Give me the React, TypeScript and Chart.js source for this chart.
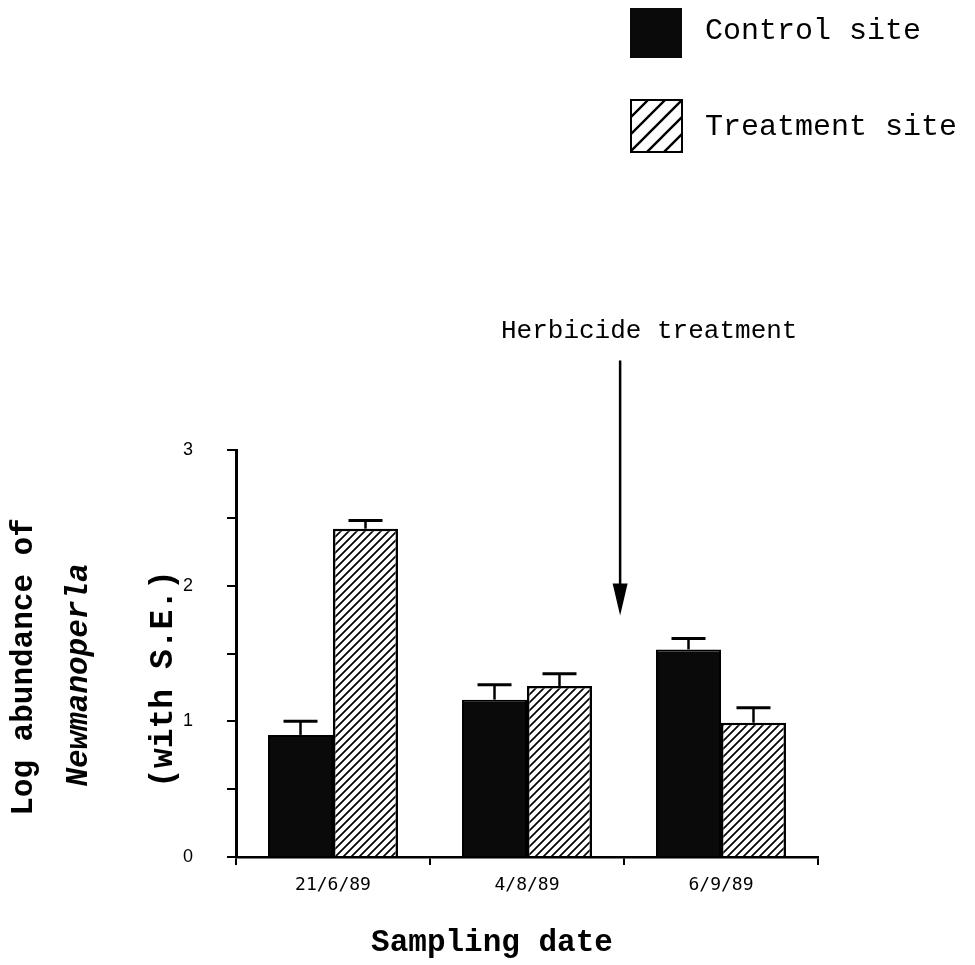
import React, { useEffect, useRef } from "react";
import { Chart, registerables } from "chart.js";

Chart.register(...registerables);

const categories = ["21/6/89", "4/8/89", "6/9/89"];
const controlValues = [0.9, 1.16, 1.53];
const controlSE = [0.1, 0.11, 0.08];
const treatmentValues = [2.42, 1.26, 0.99];
const treatmentSE = [0.06, 0.09, 0.11];
const seriesLabels = ["Control site", "Treatment site"];
const yTitleLines = ["Log abundance of", "Newmanoperla", "(with S.E.)"];
const xTitle = "Sampling date";
const annotationText = "Herbicide treatment";

function makeHatch(size: number, lw: number): CanvasPattern | string {
  const c = document.createElement("canvas");
  c.width = size;
  c.height = size;
  const g = c.getContext("2d");
  if (!g) return "#fff";
  g.fillStyle = "#fff";
  g.fillRect(0, 0, size, size);
  g.strokeStyle = "#000";
  g.lineWidth = lw;
  g.lineCap = "square";
  g.beginPath();
  g.moveTo(0, size);
  g.lineTo(size, 0);
  g.moveTo(-2, 2);
  g.lineTo(2, -2);
  g.moveTo(size - 2, size + 2);
  g.lineTo(size + 2, size - 2);
  g.stroke();
  const p = g.createPattern(c, "repeat");
  return p || "#fff";
}

export default function App() {
  const ref = useRef<HTMLCanvasElement | null>(null);

  useEffect(() => {
    if (!ref.current) return;
    const hatch = makeHatch(8, 1.7);
    const legendHatch = makeHatch(17, 2.4);
    const errors = [controlSE, treatmentSE];

    const overlay = {
      id: "overlay",
      afterDatasetsDraw(chart: any) {
        const ctx = chart.ctx;
        const yS = chart.scales.y;
        ctx.save();
        ctx.strokeStyle = "#000";
        chart.data.datasets.forEach((ds: any, i: number) => {
          const meta = chart.getDatasetMeta(i);
          meta.data.forEach((el: any, j: number) => {
            const v = ds.data[j];
            const top = yS.getPixelForValue(v + errors[i][j]);
            ctx.lineWidth = 2.5;
            ctx.beginPath();
            ctx.moveTo(el.x, el.y);
            ctx.lineTo(el.x, top);
            ctx.stroke();
            ctx.lineWidth = 3;
            ctx.beginPath();
            ctx.moveTo(el.x - 17, top);
            ctx.lineTo(el.x + 17, top);
            ctx.stroke();
          });
        });
        ctx.restore();
      },
      afterDraw(chart: any) {
        const ctx = chart.ctx;
        const xS = chart.scales.x;
        const yS = chart.scales.y;
        ctx.save();
        ctx.fillStyle = "#000";
        ctx.strokeStyle = "#000";

        // Legend
        const ds = chart.data.datasets;
        ctx.fillStyle = "#0a0a0a";
        ctx.fillRect(630, 8, 52, 50);
        ctx.fillStyle = legendHatch as any;
        ctx.fillRect(631, 100, 51, 52);
        ctx.lineWidth = 2;
        ctx.strokeRect(631, 100, 51, 52);
        ctx.fillStyle = "#000";
        ctx.font = "30px 'Liberation Mono', monospace";
        ctx.textAlign = "left";
        ctx.textBaseline = "middle";
        ctx.fillText(ds[0].label, 705, 31);
        ctx.fillText(ds[1].label, 705, 127);

        // Annotation
        const ax = xS.getPixelForValue(1.48);
        const tipY = yS.getPixelForValue(1.78);
        const topY = yS.getPixelForValue(3.66);
        ctx.font = "26px 'Liberation Mono', monospace";
        ctx.textAlign = "center";
        ctx.fillText(annotationText, xS.getPixelForValue(1.63), yS.getPixelForValue(3.88));
        ctx.lineWidth = 2.5;
        ctx.beginPath();
        ctx.moveTo(ax, topY);
        ctx.lineTo(ax, tipY - 20);
        ctx.stroke();
        ctx.beginPath();
        ctx.moveTo(ax - 7.5, tipY - 32);
        ctx.lineTo(ax + 7.5, tipY - 32);
        ctx.lineTo(ax, tipY);
        ctx.closePath();
        ctx.fill();

        // X title
        ctx.font = "bold 31px 'Liberation Mono', monospace";
        ctx.textAlign = "center";
        ctx.fillText(xTitle, 492, 943);

        // Y title lines
        const yLines: [string, number, number, string][] = [
          [yTitleLines[0], 24, 667, "bold 31px 'Liberation Mono', monospace"],
          [yTitleLines[1], 79, 675, "italic bold 31px 'Liberation Mono', monospace"],
          [yTitleLines[2], 164, 679, "bold 33px 'Liberation Mono', monospace"],
        ];
        yLines.forEach(([t, x, y, f]) => {
          ctx.save();
          ctx.translate(x, y);
          ctx.rotate(-Math.PI / 2);
          ctx.font = f;
          ctx.textAlign = "center";
          ctx.textBaseline = "middle";
          ctx.fillText(t, 0, 0);
          ctx.restore();
        });
        ctx.restore();
      },
    };

    const chart = new Chart(ref.current, {
      type: "bar",
      data: {
        labels: categories,
        datasets: [
          {
            label: seriesLabels[0],
            data: controlValues,
            backgroundColor: "#0a0a0a",
            borderColor: "#000",
            borderWidth: 2,
            barPercentage: 1,
            categoryPercentage: 0.67,
          },
          {
            label: seriesLabels[1],
            data: treatmentValues,
            backgroundColor: hatch as any,
            borderColor: "#000",
            borderWidth: 2.5,
            barPercentage: 1,
            categoryPercentage: 0.67,
          },
        ],
      },
      options: {
        responsive: false,
        animation: false,
        devicePixelRatio: 1,
        layout: { padding: { left: 0, top: 450, right: 157, bottom: 0 } },
        plugins: { legend: { display: false }, tooltip: { enabled: false }, title: { display: false } },
        scales: {
          x: {
            afterFit(scale: any) {
              scale.height = 108;
            },
            grid: {
              display: true,
              drawOnChartArea: false,
              drawTicks: true,
              tickLength: 8,
              color: "#000",
              lineWidth: 2,
              offset: true,
            },
            border: { display: true, color: "#000", width: 2.5 },
            ticks: {
              color: "#000",
              padding: 10,
              font: { family: "'DejaVu Sans Mono', monospace", size: 18 },
            },
          },
          y: {
            min: 0,
            max: 3,
            afterFit(scale: any) {
              scale.width = 236;
            },
            grid: {
              display: true,
              drawOnChartArea: false,
              drawTicks: true,
              tickLength: 9,
              color: "#000",
              lineWidth: 2,
            },
            border: { display: true, color: "#000", width: 3 },
            ticks: {
              stepSize: 0.5,
              color: "#000",
              padding: 34,
              font: { family: "'Liberation Sans', Arial, sans-serif", size: 18 },
              callback: (v: any) => (Number(v) % 1 === 0 ? String(v) : ""),
            },
          },
        },
      },
      plugins: [overlay],
    });
    return () => chart.destroy();
  }, []);

  return (
    <div style={{ position: "absolute", left: 0, top: 0, width: 975, height: 965, background: "#fff" }}>
      <canvas ref={ref} width={975} height={965} />
    </div>
  );
}
